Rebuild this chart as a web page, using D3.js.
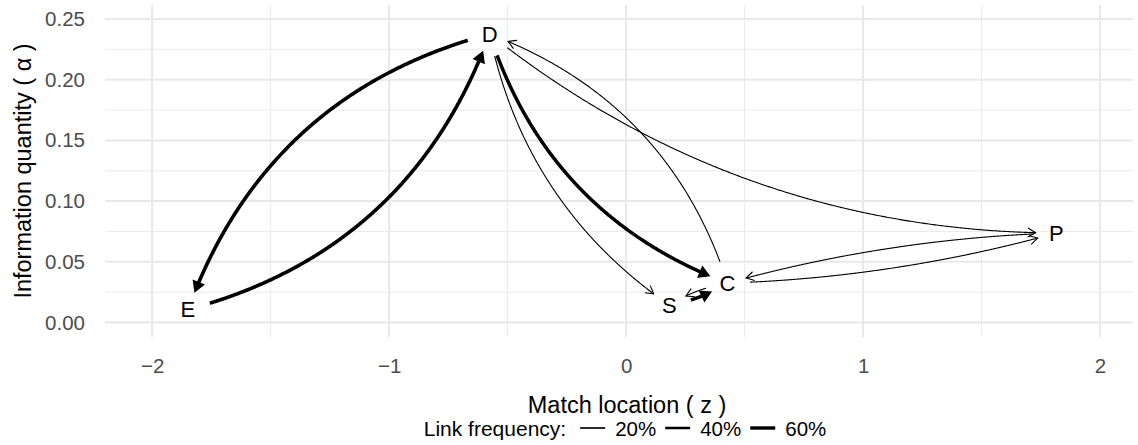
<!DOCTYPE html>
<html>
<head>
<meta charset="utf-8">
<script src="https://cdn.jsdelivr.net/npm/d3@7"></script>
<style>
  body { margin: 0; background: #fff; }
  text { font-family: "Liberation Sans", Arial, Helvetica, sans-serif; }
</style>
</head>
<body>
<svg id="chart" width="1138" height="445"></svg>
<script>
// nodes: label, match location (z), information quantity (alpha)
const nodeNames = ["D", "E", "S", "C", "P"];
const nodeZ = [-0.576, -1.849, 0.182, 0.428, 1.815];
const nodeAlpha = [0.2376, 0.0107, 0.0144, 0.0325, 0.0737];

// links between nodes, with their frequency and bend
const edgeFrom = ["D", "E", "D", "C", "D", "D", "P", "C", "C", "S"];
const edgeTo   = ["E", "D", "C", "D", "S", "P", "C", "P", "S", "C"];
const edgeFreq = [0.65, 0.65, 0.62, 0.07, 0.07, 0.07, 0.07, 0.07, 0.07, 0.62];
const edgeBend = [0.13, 0.13, 0.12, 0.12, 0.1, 0.086, 0.03, 0.03, 0.05, 0.05];

// axes
const xTicks = [-2, -1, 0, 1, 2];
const xMinor = [-1.5, -0.5, 0.5, 1.5];
const yTicks = [0, 0.05, 0.1, 0.15, 0.2, 0.25];
const yMinor = [0.025, 0.075, 0.125, 0.175, 0.225];
const legendFreq = [0.2, 0.4, 0.6];
const legendLabels = ["20%", "40%", "60%"];

const svg = d3.select("#chart");
const FONT = '"Liberation Sans", Arial, Helvetica, sans-serif';

const x = d3.scaleLinear().domain([-2.199, 2.139]).range([105, 1133]);
const y = d3.scaleLinear().domain([-0.0119, 0.2615]).range([337, 5]);
const lw = d3.scaleLinear().domain([0, 0.6]).range([0.8, 3.4]);

// grid lines (minor first, then major)
const grid = svg.append("g");
grid.selectAll(".xmin").data(xMinor).enter().append("line")
    .attr("x1", d => x(d)).attr("x2", d => x(d))
    .attr("y1", y.range()[0]).attr("y2", y.range()[1])
    .attr("stroke", "#ebebeb").attr("stroke-width", 1);
grid.selectAll(".ymin").data(yMinor).enter().append("line")
    .attr("x1", x.range()[0]).attr("x2", x.range()[1])
    .attr("y1", d => y(d)).attr("y2", d => y(d))
    .attr("stroke", "#ebebeb").attr("stroke-width", 1);
grid.selectAll(".xmaj").data(xTicks).enter().append("line")
    .attr("x1", d => x(d)).attr("x2", d => x(d))
    .attr("y1", y.range()[0]).attr("y2", y.range()[1])
    .attr("stroke", "#e8e8e8").attr("stroke-width", 2);
grid.selectAll(".ymaj").data(yTicks).enter().append("line")
    .attr("x1", x.range()[0]).attr("x2", x.range()[1])
    .attr("y1", d => y(d)).attr("y2", d => y(d))
    .attr("stroke", "#e8e8e8").attr("stroke-width", 2);

// axes, no domain line, no ticks
const yAxis = svg.append("g")
    .attr("transform", "translate(105,0)")
    .call(d3.axisLeft(y).tickValues(yTicks).tickFormat(d3.format(".2f")).tickSize(0).tickPadding(20));
const xAxis = svg.append("g")
    .attr("transform", "translate(0,337)")
    .call(d3.axisBottom(x).tickValues(xTicks).tickFormat(d3.format("d")).tickSize(0).tickPadding(21));
[xAxis, yAxis].forEach(g => {
    g.select(".domain").remove();
    g.attr("font-family", FONT).attr("font-size", 20.5);
    g.selectAll("text").attr("fill", "#4d4d4d");
});

// axis titles
svg.append("text")
    .attr("x", 627).attr("y", 405)
    .attr("text-anchor", "middle").attr("dominant-baseline", "central")
    .style("font-size", "23.5px").text("Match location ( z )");
svg.append("text")
    .attr("transform", "translate(23,171) rotate(-90)")
    .attr("text-anchor", "middle").attr("dominant-baseline", "central")
    .style("font-size", "23.5px").text("Information quantity ( \u03b1 )");

// edges: quadratic curves bowing to the right of travel, trimmed at both nodes
const pos = {};
nodeNames.forEach((n, i) => { pos[n] = [x(nodeZ[i]), y(nodeAlpha[i])]; });

function bez(p0, p1, p2, t) {
    const u = 1 - t;
    return [u * u * p0[0] + 2 * u * t * p1[0] + t * t * p2[0],
            u * u * p0[1] + 2 * u * t * p1[1] + t * t * p2[1]];
}
const dist = (a, b) => Math.hypot(a[0] - b[0], a[1] - b[1]);

const startGap = 22, endGap = 19;
const edgeLayer = svg.append("g");

edgeFrom.forEach((from, i) => {
    const p0 = pos[from], p2 = pos[edgeTo[i]];
    const dx = p2[0] - p0[0], dy = p2[1] - p0[1];
    const len = Math.hypot(dx, dy);
    // right-hand normal in screen coords
    const nx = -dy / len, ny = dx / len;
    const off = 2 * edgeBend[i] * len;
    const p1 = [(p0[0] + p2[0]) / 2 + nx * off, (p0[1] + p2[1]) / 2 + ny * off];

    const pts = d3.range(0, 401).map(k => bez(p0, p1, p2, k / 400));
    const a = pts.findIndex(p => dist(p, p0) >= startGap);
    let b = pts.length - 1;
    while (b > 0 && dist(pts[b], p2) < endGap) b--;
    let seg = pts.slice(a, b + 1);

    const w = lw(edgeFreq[i]);
    const tip = seg[seg.length - 1];
    const prev = seg[Math.max(0, seg.length - 6)];
    const ang = Math.atan2(tip[1] - prev[1], tip[0] - prev[0]);
    const thick = w > 1.5;
    const L = thick ? 11 : 9;
    const h = Math.PI / 6;
    const left = [tip[0] - L * Math.cos(ang - h), tip[1] - L * Math.sin(ang - h)];
    const right = [tip[0] - L * Math.cos(ang + h), tip[1] - L * Math.sin(ang + h)];

    if (thick) {
        // stop the shaft at the arrow base
        seg = seg.filter(p => dist(p, tip) >= L * 0.7 || p === seg[0]);
    }

    edgeLayer.append("path")
        .attr("d", d3.line()(seg))
        .attr("fill", "none").attr("stroke", "#000")
        .attr("stroke-width", w);

    edgeLayer.append("path")
        .attr("d", thick ? d3.line()([left, tip, right]) + "Z" : d3.line()([left, tip, right]))
        .attr("fill", thick ? "#000" : "none")
        .attr("stroke", "#000")
        .attr("stroke-width", thick ? 1.4 : w)
        .attr("stroke-linejoin", "miter");
});

// node labels
svg.append("g").selectAll("text").data(nodeNames).enter().append("text")
    .attr("x", (d, i) => x(nodeZ[i]))
    .attr("y", (d, i) => y(nodeAlpha[i]))
    .attr("text-anchor", "middle").attr("dominant-baseline", "central")
    .style("font-size", "22px").text(d => d);

// legend
const leg = svg.append("g").attr("transform", "translate(0,428)");
const title = leg.append("text").attr("dominant-baseline", "central")
    .style("font-size", "21px").text("Link frequency:");
let cx = title.node().getComputedTextLength() + 14;
legendFreq.forEach((f, i) => {
    leg.append("line")
        .attr("x1", cx).attr("x2", cx + 25).attr("y1", 0).attr("y2", 0)
        .attr("stroke", "#000").attr("stroke-width", lw(f));
    cx += 35;
    const t = leg.append("text").attr("x", cx).attr("dominant-baseline", "central")
        .style("font-size", "20.5px").text(legendLabels[i]);
    cx += t.node().getComputedTextLength() + 9;
});
const totalW = cx - 9;
leg.attr("transform", `translate(${625 - totalW / 2},428)`);
</script>
</body>
</html>
